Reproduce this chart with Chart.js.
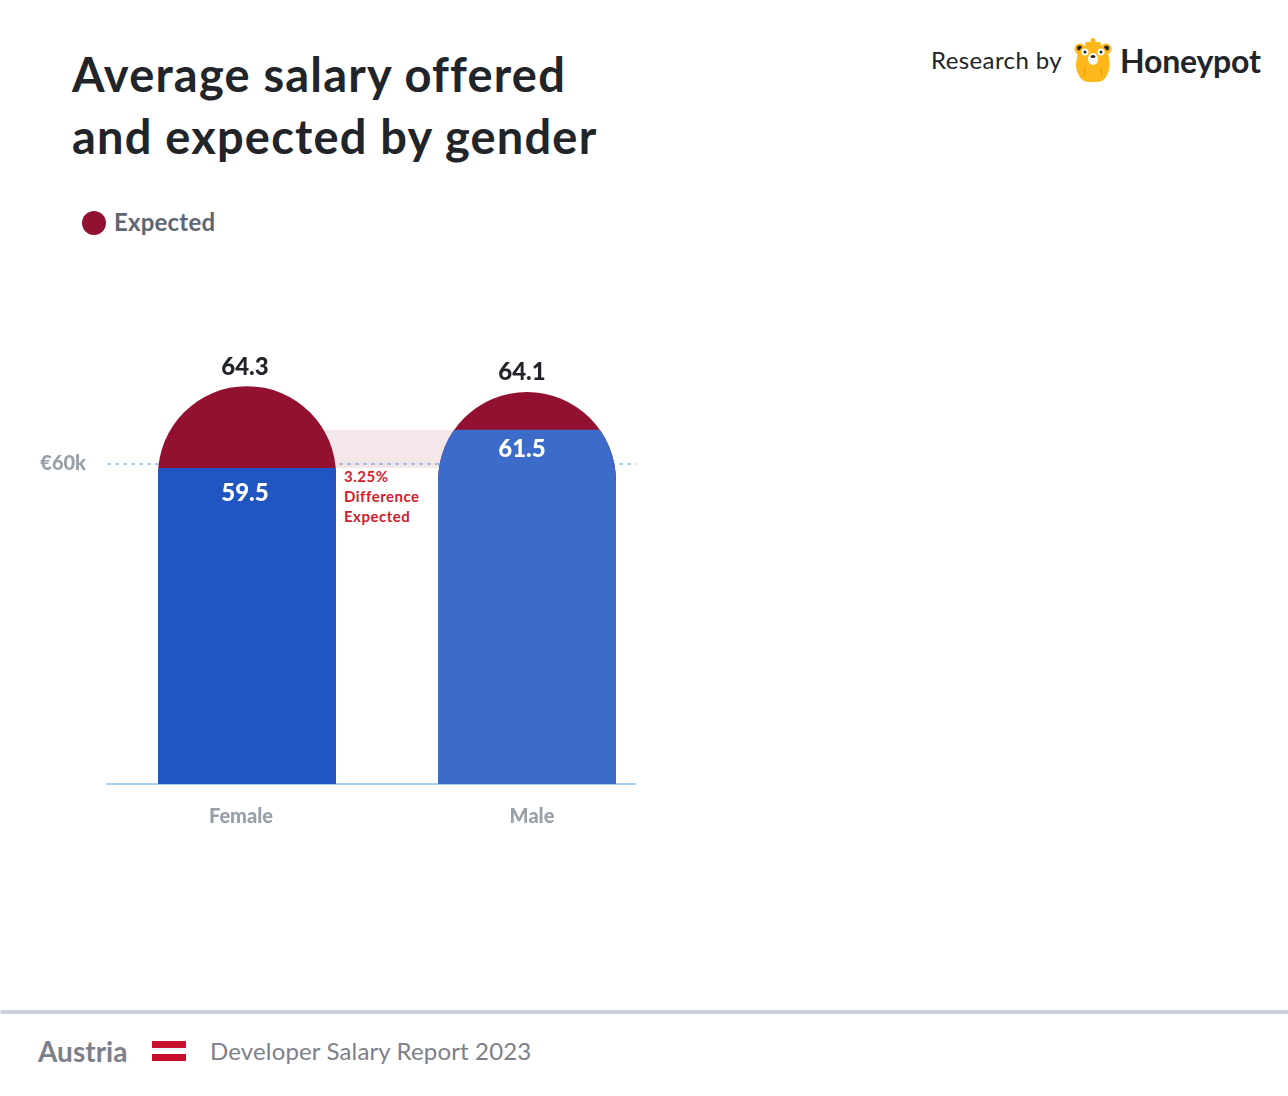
<!DOCTYPE html>
<html>
<head>
<meta charset="utf-8">
<title>Average salary offered and expected by gender</title>
<script src="https://cdn.jsdelivr.net/npm/chart.js@4"></script>
<style>
    html, body { margin: 0; padding: 0; background: #fff; }
    body { position: relative; width: 1288px; height: 1096px; overflow: hidden; font-family: 'Lato', sans-serif; }
    .abs { position: absolute; white-space: nowrap; }
    #title { left: 72px; top: 43px; font-size: 47px; line-height: 62px; font-weight: 700; color: #212429; letter-spacing: 1.2px; }
    #legend-dot { left: 82px; top: 211px; width: 24px; height: 24px; border-radius: 50%; background: #931130; }
    #legend-text { left: 114px; top: 207px; font-size: 24px; line-height: 30px; font-weight: 700; color: #5e6672; letter-spacing: 0.2px; }
    #research { left: 931px; top: 45px; font-size: 24px; line-height: 30px; color: #212429; letter-spacing: 0.4px; }
    #brand { left: 1120px; top: 41px; font-size: 32px; line-height: 40px; font-weight: 700; color: #212429; letter-spacing: -0.2px; }
    #logo { left: 1074px; top: 37px; }
    #note { left: 344px; top: 466px; font-size: 15px; line-height: 20px; font-weight: 700; color: #d0202f; letter-spacing: 0.5px; }
    #chart-clip { left: 0; top: 271px; width: 636px; height: 569px; overflow: hidden; }
    #chart-wrap { position: relative; width: 667px; height: 569px; }
    #rule { left: 0; top: 1010px; width: 1288px; height: 4px; border-radius: 2px 0 0 2px; background: #cbd0da; }
    #country { left: 38px; top: 1034px; font-size: 28px; line-height: 34px; font-weight: 700; color: #7d7f8b; }
    #flag { left: 152px; top: 1041px; width: 34px; height: 20px; background: linear-gradient(#c8102e 0 7px, #fff 7px 13px, #c8102e 13px 20px); }
    #report { left: 210px; top: 1036px; font-size: 24px; line-height: 30px; color: #7d7f8b; letter-spacing: 0.15px; }
</style>
</head>
<body>
<div class="abs" id="title">Average salary offered<br>and expected by gender</div>
<div class="abs" id="legend-dot"></div>
<div class="abs" id="legend-text">Expected</div>
<div class="abs" id="research">Research by</div>
<svg class="abs" id="logo" width="38" height="46" viewBox="0 0 38 46">
    <circle cx="19" cy="3.500" r="2.500" fill="#ffb81c"/>
    <rect x="11" y="5" width="16" height="4" rx="2" fill="#ffb81c"/>
    <circle cx="6" cy="12" r="5.500" fill="#ffb81c"/>
    <circle cx="32" cy="12" r="5.500" fill="#ffb81c"/>
    <circle cx="5.500" cy="11" r="2.500" fill="#212429"/>
    <circle cx="32.500" cy="11" r="2.500" fill="#212429"/>
    <path d="M19 7c9 0 15 5 16 14 2 10-1 19-7 23-3 1.500-15 1.500-18 0C4 40 0 31 3 21 4 12 10 7 19 7z" fill="#ffb81c"/>
    <path d="M10 30c1 3 1 6 0 9M28 30c-1 3-1 6 0 9" stroke="#e59a00" stroke-width="1" fill="none"/>
    <circle cx="11" cy="15" r="3.500" fill="#fff"/>
    <circle cx="27" cy="15" r="3.500" fill="#fff"/>
    <circle cx="11" cy="15" r="1.500" fill="#212429"/>
    <circle cx="27" cy="15" r="1.500" fill="#212429"/>
    <ellipse cx="19" cy="22" rx="5" ry="6" fill="#fff"/>
    <ellipse cx="19" cy="19.500" rx="2.500" ry="1.500" fill="#212429"/>
</svg>
<div class="abs" id="brand">Honeypot</div>
<div class="abs" id="note">3.25%<br>Difference<br>Expected</div>
<div class="abs" id="chart-clip"><div id="chart-wrap"><canvas id="salary-chart"></canvas></div></div>
<div class="abs" id="rule"></div>
<div class="abs" id="country">Austria</div>
<div class="abs" id="flag"></div>
<div class="abs" id="report">Developer Salary Report 2023</div>

<script>
const categories = ['Female', 'Male'];
const offeredLabels = ['59.5', '61.5'];
const expectedLabels = ['64.3', '64.1'];

// Heights as drawn against the €60k line. The reference does not plot its bars
// to scale with the printed figures, so these differ from the labels above.
const offeredHeights = [59.25, 66.4];
const expectedHeights = [74.6, 73.5];

const yTicks = [60];

// Small per-label nudges, the reference's labels are not quite centred
const categoryNudge = [-6, 5];
const valueNudge = [-2, -5];
const offeredLift = [25, 19];
const expectedLift = [19, 20];

const BLUE_FEMALE = '#2155c2';
const BLUE_MALE = '#3d6bc9';
const RED = '#931130';
const GRID_BLUE = '#a9cfef';
const BAR_RADIUS = 89;

const salaryPlugin = {
    id: 'salaryPlugin',
    // Pink band between the two offered levels
    beforeDatasetsDraw(chart) {
        const { ctx, scales } = chart;
        const bars = chart.getDatasetMeta(0).data;
        const top = scales.y.getPixelForValue(offeredHeights[1]);
        const bottom = scales.y.getPixelForValue(offeredHeights[0]);
        ctx.save();
        ctx.fillStyle = 'rgba(147, 17, 48, 0.1)';
        ctx.fillRect(bars[0].x, top, bars[1].x - bars[0].x, bottom - top);
        ctx.restore();
    },
    // Offered bars take the rounded outline of the expected bars behind them
    beforeDatasetDraw(chart, args) {
        if (args.index !== 0) return;
        const { ctx } = chart;
        ctx.save();
        ctx.beginPath();
        chart.getDatasetMeta(1).data.forEach(bar => {
            ctx.roundRect(bar.x - bar.width / 2, bar.y, bar.width, bar.base - bar.y,
                [BAR_RADIUS, BAR_RADIUS, 0, 0]);
        });
        ctx.clip();
    },
    afterDatasetDraw(chart, args) {
        if (args.index === 0) chart.ctx.restore();
    },
    afterDraw(chart) {
        const { ctx, scales } = chart;
        const offered = chart.getDatasetMeta(0).data;
        const expected = chart.getDatasetMeta(1).data;
        ctx.save();
        ctx.textAlign = 'center';
        ctx.textBaseline = 'middle';

        ctx.font = '900 24px Lato';
        categories.forEach((_, i) => {
            ctx.fillStyle = '#ffffff';
            ctx.fillText(offeredLabels[i], offered[i].x + valueNudge[i], offered[i].y + offeredLift[i]);
            ctx.fillStyle = '#212429';
            ctx.fillText(expectedLabels[i], expected[i].x + valueNudge[i], expected[i].y - expectedLift[i]);
        });

        ctx.font = '900 20px Lato';
        ctx.fillStyle = '#98a0a9';
        categories.forEach((name, i) => {
            ctx.fillText(name, offered[i].x + categoryNudge[i], scales.y.getPixelForValue(0) + 33);
        });
        ctx.restore();
    }
};

new Chart(document.getElementById('salary-chart'), {
    type: 'bar',
    data: {
        labels: categories,
        datasets: [
            {
                label: 'Offered',
                data: offeredHeights,
                backgroundColor: [BLUE_FEMALE, BLUE_MALE],
            },
            {
                label: 'Expected',
                data: expectedHeights,
                backgroundColor: RED,
                borderRadius: { topLeft: BAR_RADIUS, topRight: BAR_RADIUS, bottomLeft: 0, bottomRight: 0 },
            }
        ]
    },
    options: {
        responsive: true,
        maintainAspectRatio: false,
        animation: false,
        devicePixelRatio: 1,
        // The canvas runs on past the clip box so the axis lines stop at 636.
        // The y axis keeps 33px above the plot whatever the top padding is.
        layout: { autoPadding: false, padding: { top: 0, bottom: 48, left: 37, right: 0 } },
        datasets: { bar: { barThickness: 178, grouped: false, inflateAmount: 0 } },
        plugins: {
            legend: { display: false },
            tooltip: { enabled: false }
        },
        scales: {
            x: {
                grid: { display: false },
                border: { color: GRID_BLUE, width: 2 },
                ticks: { display: false }
            },
            y: {
                min: 0,
                max: 90,
                afterFit: scale => { scale.width = 70; },
                afterBuildTicks: scale => { scale.ticks = yTicks.map(value => ({ value })); },
                grid: { color: GRID_BLUE, lineWidth: 2, drawTicks: false },
                border: { display: false, dash: [4, 4] },
                ticks: {
                    color: '#98a0a9',
                    font: { family: 'Lato', size: 20, weight: 900 },
                    padding: 21,
                    callback: value => '€' + value + 'k'
                }
            }
        }
    },
    plugins: [salaryPlugin]
});
</script>
</body>
</html>
